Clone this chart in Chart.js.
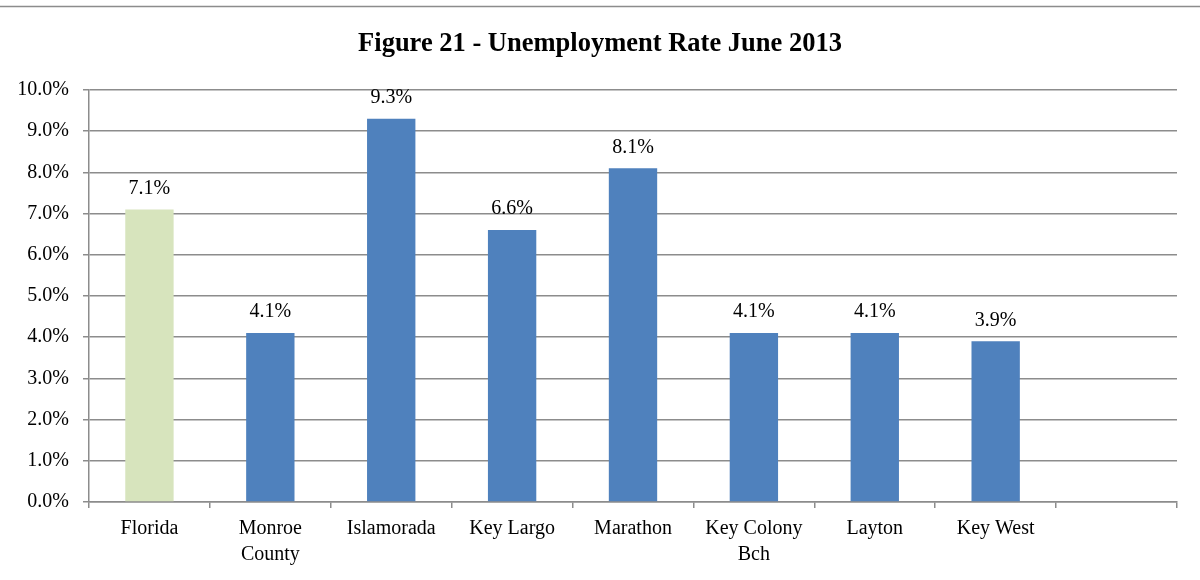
<!DOCTYPE html>
<html>
<head>
<meta charset="utf-8">
<script src="https://cdn.jsdelivr.net/npm/chart.js@4"></script>
<style>
  body { margin: 0; background: #fff; }
  #wrap { width: 1200px; height: 580px; }
</style>
</head>
<body>
<div id="wrap"><canvas id="Estadistica" width="1200" height="580"></canvas></div>
<script>
// categorias (la ultima queda vacia)
const lugares = ['Florida', ['Monroe', 'County'], 'Islamorada', 'Key Largo', 'Marathon', ['Key Colony', 'Bch'], 'Layton', 'Key West', ''];
const tasas = [7.1, 4.1, 9.3, 6.6, 8.1, 4.1, 4.1, 3.9, null];
const colores = ['#D7E4BD', '#4F81BD', '#4F81BD', '#4F81BD', '#4F81BD', '#4F81BD', '#4F81BD', '#4F81BD', '#4F81BD'];
const titulo = 'Figure 21 - Unemployment Rate June 2013';

const fuente = '"Liberation Serif", "Times New Roman", serif';
const gris = '#8c8c8c';

// titulo, linea superior y etiquetas de valor
const extras = {
  id: 'extras',
  afterDraw(chart) {
    const c = chart.ctx;
    c.save();
    c.strokeStyle = gris;
    c.lineWidth = 1.5;
    c.beginPath();
    c.moveTo(0, 6.5);
    c.lineTo(1200, 6.5);
    c.stroke();

    c.fillStyle = '#000';
    c.font = 'bold 26.5px ' + fuente;
    c.textAlign = 'center';
    c.textBaseline = 'middle';
    c.fillText(titulo, 600, 44);

    c.font = '20px ' + fuente;
    const meta = chart.getDatasetMeta(0);
    meta.data.forEach((bar, i) => {
      if (tasas[i] == null) return;
      c.fillText(tasas[i].toFixed(1) + '%', bar.x, bar.y - 21);
    });
    c.restore();
  }
};

new Chart(document.getElementById('Estadistica'), {
  type: 'bar',
  data: {
    labels: lugares,
    datasets: [{
      data: tasas,
      backgroundColor: colores,
      borderWidth: 0,
      categoryPercentage: 1,
      barPercentage: 0.4
    }]
  },
  plugins: [extras],
  options: {
    responsive: false,
    animation: false,
    layout: { padding: { top: 90, right: 23, left: 0, bottom: 0 } },
    plugins: { legend: { display: false }, tooltip: { enabled: false } },
    scales: {
      y: {
        min: 0,
        max: 10,
        ticks: {
          stepSize: 1,
          padding: 14,
          color: '#000',
          font: { family: fuente, size: 20 },
          callback: v => v.toFixed(1) + '%'
        },
        grid: { color: gris, lineWidth: 1.5, tickLength: 6 },
        border: { color: gris, width: 1.5 },
        afterFit(s) { s.width = 89; }
      },
      x: {
        ticks: {
          padding: 8,
          color: '#000',
          font: { family: fuente, size: 20, lineHeight: 1.3 }
        },
        grid: { offset: true, drawOnChartArea: false, color: gris, lineWidth: 1.5, tickLength: 6 },
        border: { color: gris, width: 1.5 },
        afterFit(s) { s.height = 78; }
      }
    }
  }
});
</script>
</body>
</html>
